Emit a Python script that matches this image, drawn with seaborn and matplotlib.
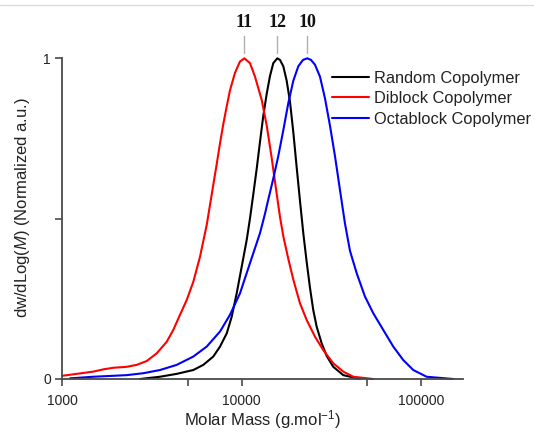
import numpy as np
import pandas as pd
import matplotlib
matplotlib.use("Agg")
import matplotlib.pyplot as plt
import matplotlib.transforms as mtransforms
from matplotlib.lines import Line2D
from matplotlib.ticker import FixedLocator, FixedFormatter, NullFormatter
import seaborn as sns

# --- GPC traces: molar mass (g/mol) and normalised dw/dLog(M) ---
random_mass = [2713, 3506, 4344, 5376, 6110, 6947, 7572, 8251, 8797, 9379,
               10000, 10660, 11120, 11600, 12120, 12650, 13190, 13790, 14380,
               15000, 15790, 16350, 17060, 17810, 18580, 19390, 20250, 21130,
               22040, 23020, 24010, 25050, 26170, 27910, 29750, 32380, 36810,
               45620]
random_signal = [0.0, 0.007, 0.016, 0.028, 0.044, 0.070, 0.101, 0.142, 0.194,
                 0.267, 0.350, 0.433, 0.50, 0.575, 0.655, 0.74, 0.82, 0.89,
                 0.945, 0.985, 1.0, 0.995, 0.975, 0.93, 0.865, 0.77, 0.66,
                 0.555, 0.455, 0.365, 0.285, 0.215, 0.163, 0.111, 0.072,
                 0.038, 0.012, 0.0]

diblock_mass = [1000, 1205, 1490, 1694, 1926, 2288, 2600, 2957, 3362, 3822,
                4158, 4531, 4938, 5376, 5857, 6383, 6806, 7258, 7572, 7899,
                8251, 8605, 9178, 9783, 10360, 11120, 11860, 12930, 13790,
                14690, 15330, 16350, 17060, 18180, 19390, 21130, 23020, 25610,
                28490, 32380, 36810, 41850, 54090]
diblock_signal = [0.010, 0.016, 0.023, 0.030, 0.035, 0.038, 0.044, 0.056, 0.080,
                  0.116, 0.153, 0.200, 0.246, 0.303, 0.381, 0.48, 0.575, 0.67,
                  0.735, 0.795, 0.85, 0.90, 0.955, 0.99, 1.0, 0.985, 0.943,
                  0.87, 0.79, 0.69, 0.615, 0.505, 0.445, 0.375, 0.31, 0.236,
                  0.184, 0.132, 0.090, 0.049, 0.023, 0.007, 0.0]

octablock_mass = [1105, 1490, 2288, 2830, 3506, 4344, 5376, 6383, 7572, 8605,
                  9783, 11120, 12650, 13480, 14070, 15000, 15990, 17060, 18180,
                  19390, 20670, 21950, 23200, 24330, 25610, 27300, 29120, 31040,
                  33100, 35280, 37620, 40110, 43720, 48640, 54090, 61500, 69930,
                  79490, 90360, 107300, 150900]
octablock_signal = [0.002, 0.007, 0.012, 0.018, 0.028, 0.044, 0.070, 0.101, 0.148,
                    0.200, 0.267, 0.361, 0.455, 0.515, 0.56, 0.625, 0.695, 0.776,
                    0.86, 0.93, 0.975, 0.995, 1.0, 0.995, 0.98, 0.943, 0.875,
                    0.79, 0.695, 0.59, 0.485, 0.40, 0.33, 0.257, 0.205, 0.153,
                    0.101, 0.059, 0.028, 0.007, 0.0]

series_names = ["Random Copolymer", "Diblock Copolymer", "Octablock Copolymer"]
series_colors = ["#000000", "#ff0000", "#0000ff"]
peak_labels = ["12", "11", "10"]

x_ticks = [1000, 10000, 100000]
x_tick_labels = ["1000", "10000", "100000"]
x_minor_ticks = [5000, 50000]
y_ticks = [0, 1]
y_tick_labels = ["0", "1"]
y_minor_ticks = [0.5]

masses = [random_mass, diblock_mass, octablock_mass]
signals = [random_signal, diblock_signal, octablock_signal]
frames = [pd.DataFrame({"mass": m, "signal": s, "sample": name})
          for m, s, name in zip(masses, signals, series_names)]
df = pd.concat(frames, ignore_index=True)

sns.set_style("ticks")
plt.rcParams["font.family"] = ["Liberation Sans", "DejaVu Sans"]
plt.rcParams["mathtext.fontset"] = "custom"
plt.rcParams["mathtext.rm"] = "Liberation Sans"
plt.rcParams["mathtext.it"] = "Liberation Sans:italic"

axis_grey = "#4a4a4a"

fig = plt.figure(figsize=(5.34, 4.32), dpi=100)
ax = fig.add_axes([0.1165, 0.1227, 0.7505, 0.7423])

sns.lineplot(data=df, x="mass", y="signal", hue="sample", hue_order=series_names,
             palette=dict(zip(series_names, series_colors)), estimator=None,
             sort=False, linewidth=1.5, ax=ax)
for line in ax.get_lines():
    line.set_clip_on(False)
    line.set_solid_joinstyle("round")

ax.set_xscale("log")
ax.set_xlim(1000, 171000)
ax.set_ylim(0, 1)

ax.xaxis.set_major_locator(FixedLocator(x_ticks))
ax.xaxis.set_major_formatter(FixedFormatter(x_tick_labels))
ax.xaxis.set_minor_locator(FixedLocator(x_minor_ticks))
ax.xaxis.set_minor_formatter(NullFormatter())
ax.yaxis.set_major_locator(FixedLocator(y_ticks))
ax.yaxis.set_major_formatter(FixedFormatter(y_tick_labels))
ax.yaxis.set_minor_locator(FixedLocator(y_minor_ticks))

ax.tick_params(which="both", direction="out", length=5, width=1.2,
               color=axis_grey, labelsize=10, labelcolor="#222222")
ax.tick_params(axis="x", which="major", pad=6)
ax.tick_params(axis="y", which="major", pad=3)
ax.tick_params(which="minor", length=5)

sns.despine(ax=ax)
for side in ("left", "bottom"):
    ax.spines[side].set_color(axis_grey)
    ax.spines[side].set_linewidth(1.3)

ax.set_xlabel(r"Molar Mass (g.mol$^{\mathregular{-1}}$)", fontsize=12, color="#222222")
ax.set_ylabel(r"dw/dLog($\mathit{M}$) (Normalized a.u.)", fontsize=12, color="#222222")
ax.xaxis.set_label_coords(0.5, -0.091)
ax.yaxis.set_label_coords(-0.075, 0.535)

# sample numbers above each peak maximum
trans = mtransforms.blended_transform_factory(ax.transData, ax.transAxes)
for m, s, lab in zip(masses, signals, peak_labels):
    peak_mass = m[int(np.argmax(s))]
    ax.plot([peak_mass, peak_mass], [1.017, 1.070], transform=trans,
            color="#b0b0b0", linewidth=1.0, clip_on=False)
    ax.text(peak_mass, 1.112, lab, transform=trans, ha="center", va="center",
            fontsize=13, fontweight="bold", family="Liberation Serif",
            color="#111111")

leg = ax.legend(loc="upper left", bbox_to_anchor=(331.7 / 534, 1 - 70.5 / 432),
                bbox_transform=fig.transFigure, frameon=False, fontsize=11.8,
                borderpad=0, borderaxespad=0, handlelength=2.3,
                handletextpad=0.3, labelspacing=0.35, title=None)
for h in leg.get_lines():
    h.set_linewidth(1.5)
for t in leg.get_texts():
    t.set_color("#222222")

fig.add_artist(Line2D([0, 1], [1 - 5 / 432, 1 - 5 / 432], transform=fig.transFigure,
                      color="#dcdcdc", linewidth=1.0))

fig.savefig("out.png", dpi=100)
